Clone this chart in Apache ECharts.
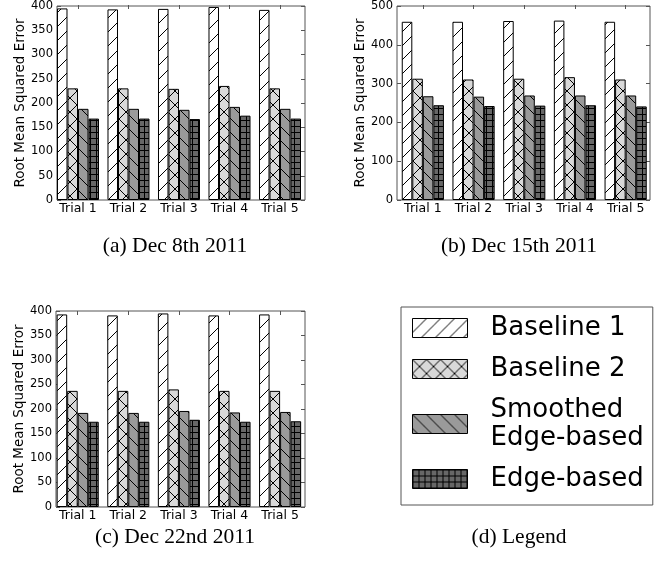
<!DOCTYPE html>
<html><head><meta charset="utf-8">
<script src="https://cdn.jsdelivr.net/npm/echarts@6/dist/echarts.min.js"></script>
<style>html,body{margin:0;padding:0;background:#fff}#c{width:668px;height:566px}</style>
</head><body><div id="c"></div><script>
// ---- data ----
const categories = ['Trial 1', 'Trial 2', 'Trial 3', 'Trial 4', 'Trial 5'];
const seriesNames = ['Baseline 1', 'Baseline 2', 'Smoothed\nEdge-based', 'Edge-based'];
const dec8Baseline1 = [393, 391, 392, 396, 390];
const dec8Baseline2 = [229, 229, 228, 234, 229];
const dec8Smoothed  = [187, 187, 185, 191, 187];
const dec8Edge      = [167, 167, 166, 173, 167];
const dec15Baseline1 = [457, 457, 459, 460, 457];
const dec15Baseline2 = [311, 309, 311, 315, 309];
const dec15Smoothed  = [266, 265, 268, 268, 268];
const dec15Edge      = [243, 241, 242, 243, 240];
const dec22Baseline1 = [393, 391, 395, 391, 393];
const dec22Baseline2 = [237, 237, 240, 237, 237];
const dec22Smoothed  = [192, 192, 196, 193, 194];
const dec22Edge      = [174, 174, 178, 174, 175];
const yTickMax = [400, 500, 400];
const yTickStep = [50, 100, 50];
const captions = ['(a) Dec 8th 2011', '(b) Dec 15th 2011', '(c) Dec 22nd 2011', '(d) Legend'];
const yAxisName = 'Root Mean Squared Error';

const panelData = [
  [dec8Baseline1, dec8Baseline2, dec8Smoothed, dec8Edge],
  [dec15Baseline1, dec15Baseline2, dec15Smoothed, dec15Edge],
  [dec22Baseline1, dec22Baseline2, dec22Smoothed, dec22Edge]
];

// ---- styles ----
function makePattern(bg, type, size) {
  const c = document.createElement('canvas');
  c.width = size; c.height = size;
  const g = c.getContext('2d');
  g.fillStyle = bg; g.fillRect(0, 0, size, size);
  g.strokeStyle = '#000'; g.lineWidth = 1;
  g.beginPath();
  if (type === '/' || type === 'x') {
    g.moveTo(-1, size + 1); g.lineTo(size + 1, -1);
    g.moveTo(-1, 1); g.lineTo(1, -1);
    g.moveTo(size - 1, size + 1); g.lineTo(size + 1, size - 1);
  }
  if (type === '\\' || type === 'x') {
    g.moveTo(-1, -1); g.lineTo(size + 1, size + 1);
    g.moveTo(size - 1, -1); g.lineTo(size + 1, 1);
    g.moveTo(-1, size - 1); g.lineTo(1, size + 1);
  }
  if (type === '+') {
    g.moveTo(0.5, 0); g.lineTo(0.5, size);
    g.moveTo(0, 0.5); g.lineTo(size, 0.5);
  }
  g.stroke();
  return { image: c, repeat: 'repeat' };
}
const fills = [
  makePattern('#ffffff', '/', 14),
  makePattern('#d9d9d9', 'x', 14),
  makePattern('#9a9a9a', '\\', 14),
  makePattern('#676767', '+', 6)
];

const panels = [
  { frame: { left: 57, top: 5, width: 248, height: 195 }, bars: { left: 52.75, top: 5, width: 252.5, height: 195 } },
  { frame: { left: 397, top: 5, width: 253, height: 195 }, bars: { left: 397.5, top: 5, width: 253.5, height: 195 } },
  { frame: { left: 56, top: 311, width: 249, height: 196 }, bars: { left: 52.4, top: 311, width: 253, height: 196 } }
];

const font = 'DejaVu Sans';
const axisColor = '#555';
const grid = [], xAxis = [], yAxis = [], series = [];
panels.forEach((p, i) => {
  const gf = grid.length;
  grid.push(Object.assign({ show: true, borderColor: axisColor, borderWidth: 1, backgroundColor: 'transparent', containLabel: false }, p.frame));
  const gb = grid.length;
  grid.push(Object.assign({ containLabel: false }, p.bars));
  // frame grid axes
  xAxis.push({ gridIndex: gf, type: 'value', show: false, min: 0, max: 1 });
  yAxis.push({
    gridIndex: gf, type: 'value', position: 'left', min: 0, max: yTickMax[i], interval: yTickStep[i],
    axisLine: { show: false }, splitLine: { show: false },
    axisTick: { show: true, inside: true, length: 4, lineStyle: { color: axisColor } },
    axisLabel: { fontFamily: font, fontSize: 11.5, color: '#000', margin: 4 },
    name: yAxisName, nameLocation: 'middle', nameGap: 29,
    nameTextStyle: { fontFamily: font, fontSize: 13.5, color: '#000' }
  });
  yAxis.push({
    gridIndex: gf, type: 'value', position: 'right', min: 0, max: yTickMax[i], interval: yTickStep[i],
    axisLine: { show: false }, splitLine: { show: false },
    axisTick: { show: true, inside: true, length: 4, lineStyle: { color: axisColor } },
    axisLabel: { show: false }
  });
  // bar grid axes
  const xb = xAxis.length;
  xAxis.push({
    gridIndex: gb, type: 'category', data: categories, position: 'bottom',
    axisLine: { show: false },
    axisTick: { show: true, inside: true, length: 4, alignWithLabel: true, interval: 0, lineStyle: { color: axisColor } },
    axisLabel: { fontFamily: font, fontSize: 12.5, color: '#000', margin: 2, interval: 0, hideOverlap: false }
  });
  xAxis.push({
    gridIndex: gb, type: 'category', data: categories, position: 'top',
    axisLine: { show: false },
    axisTick: { show: true, inside: true, length: 4, alignWithLabel: true, interval: 0, lineStyle: { color: axisColor } },
    axisLabel: { show: false }
  });
  const yb = yAxis.length;
  yAxis.push({ gridIndex: gb, type: 'value', min: 0, max: yTickMax[i], show: false });
  panelData[i].forEach((vals, k) => {
    series.push({
      type: 'bar', name: seriesNames[k], xAxisIndex: xb, yAxisIndex: yb, data: vals,
      barGap: '0%', barCategoryGap: '16.8%', z: 3,
      itemStyle: { color: fills[k], borderColor: '#000', borderWidth: 1 },
      emphasis: { disabled: true }, silent: true
    });
  });
});

const captionPos = [[175, 246], [519, 246], [175, 537], [519, 537]];
const graphic = captions.map((t, i) => ({
  type: 'text', silent: true,
  style: { text: t, x: captionPos[i][0], y: captionPos[i][1], align: 'center', verticalAlign: 'middle',
           font: '21.5px "Liberation Serif"', fill: '#000' }
}));

const chart = echarts.init(document.getElementById('c'), null, { renderer: 'canvas' });
chart.setOption({
  animation: false,
  backgroundColor: '#fff',
  grid, xAxis, yAxis, series, graphic,
  legend: {
    data: seriesNames, orient: 'vertical', left: 401, top: 307,
    padding: [7, 9, 12, 11], itemGap: 13, itemWidth: 55, itemHeight: 19,
    icon: 'rect', selectedMode: false,
    borderColor: axisColor, borderWidth: 1,
    itemStyle: { borderColor: '#000', borderWidth: 1 },
    textStyle: { fontFamily: font, fontSize: 26, lineHeight: 28, color: '#000', padding: [0, 0, 0, 18] }
  }
});
</script></body></html>
